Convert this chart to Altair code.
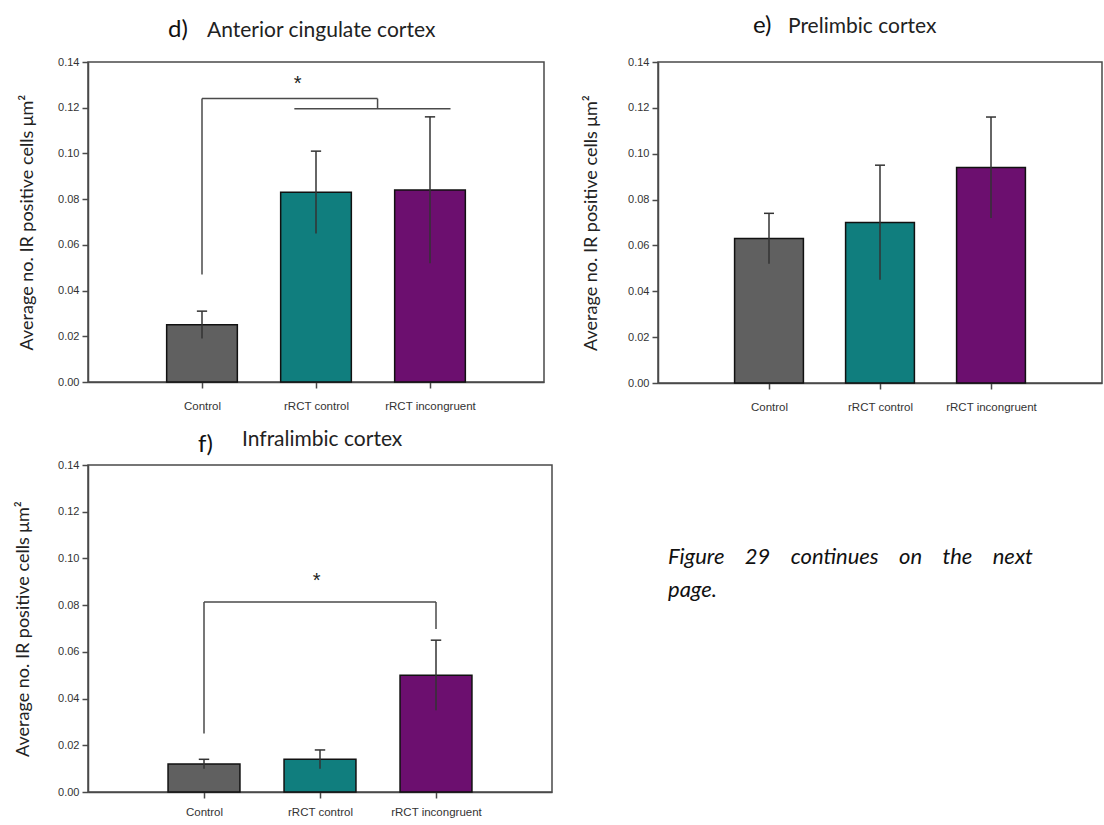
import altair as alt
import pandas as pd

# Groups and bar appearance
groups = ["Control", "rRCT control", "rRCT incongruent"]
group_pos = [1, 2, 3]
bar_colors = ["#606060", "#107e7e", "#6c0f6f"]

# Mean density of IR-positive cells and error per region
acc_mean = [0.025, 0.083, 0.084]
acc_err = [0.006, 0.018, 0.032]
plc_mean = [0.063, 0.070, 0.094]
plc_err = [0.011, 0.025, 0.022]
ilc_mean = [0.012, 0.014, 0.050]
ilc_err = [0.002, 0.004, 0.015]

y_ticks = [0.00, 0.02, 0.04, 0.06, 0.08, 0.10, 0.12, 0.14]

# Significance brackets: segments in (group position, value) units
acc_seg_x1 = [1.0, 1.0, 2.54, 1.81]
acc_seg_x2 = [1.0, 2.54, 2.54, 3.18]
acc_seg_y1 = [0.047, 0.124, 0.124, 0.1195]
acc_seg_y2 = [0.124, 0.124, 0.1195, 0.1195]
acc_star = (1.84, 0.1305)

ilc_seg_x1 = [1.0, 1.0, 3.0]
ilc_seg_x2 = [1.0, 3.0, 3.0]
ilc_seg_y1 = [0.025, 0.0813, 0.0813]
ilc_seg_y2 = [0.0813, 0.0813, 0.0698]
ilc_star = (1.97, 0.0905)

# Justified note: extra spaces widen the word gaps of the first line
NOTE = " \u2002\u2005".join(["Figure", "29", "continues", "on", "the", "next"]) + "\npage."

Y_TITLE = "Average no. IR positive cells μm²"
TITLE_FONT = "Lato"
LINE = "#4a4a4a"


def panel(mean, err, letter, name, width, height, letter_xy, name_xy,
          title_pad, x_label_pad=12, segments=None, star=None, note=None):
    df = pd.DataFrame({"group": groups, "pos": group_pos, "mean": mean,
                       "err": err, "color": bar_colors})
    base = alt.Chart(df)
    xs = alt.Scale(domain=[0, 4], nice=False, zero=False)
    ys = alt.Scale(domain=[0, 0.14], nice=False)
    label_expr = "[" + ",".join("'%s'" % g for g in groups) + "][datum.value - 1]"

    bars = base.transform_calculate(
        left="datum.pos - 0.31", right="datum.pos + 0.31"
    ).mark_bar(stroke="#111111", strokeWidth=1.5).encode(
        x=alt.X("left:Q", scale=xs,
                axis=alt.Axis(values=group_pos, labelExpr=label_expr, title=None,
                              grid=False, labelPadding=x_label_pad, labelFontSize=11.5)),
        x2="right:Q",
        y=alt.Y("mean:Q", scale=ys,
                axis=alt.Axis(values=y_ticks, format=".2f", title=Y_TITLE,
                              grid=False, labelPadding=3, titlePadding=title_pad)),
        y2=alt.datum(0),
        color=alt.Color("color:N", scale=None),
    )
    whisk = base.transform_calculate(
        lo="datum.mean - datum.err", hi="datum.mean + datum.err"
    ).mark_rule(color="#333333", strokeWidth=1.5).encode(
        x="pos:Q", y="lo:Q", y2="hi:Q")
    caps = base.transform_calculate(
        hi="datum.mean + datum.err", cl="datum.pos - 0.045", cr="datum.pos + 0.045"
    ).mark_rule(color="#333333", strokeWidth=1.5).encode(
        x="cl:Q", x2="cr:Q", y="hi:Q")

    layers = [bars, whisk, caps]

    if segments is not None:
        sx1, sx2, sy1, sy2 = segments
        seg_df = pd.DataFrame({"x1": sx1, "x2": sx2, "y1": sy1, "y2": sy2})
        layers.append(alt.Chart(seg_df).mark_rule(color=LINE, strokeWidth=1.5).encode(
            x="x1:Q", x2="x2:Q", y="y1:Q", y2="y2:Q"))
    if star is not None:
        star_df = pd.DataFrame({"x": [star[0]], "y": [star[1]], "t": ["*"]})
        layers.append(alt.Chart(star_df).mark_text(
            fontSize=20, font="Liberation Sans", color="#222222", baseline="middle"
        ).encode(x="x:Q", y="y:Q", text="t:N"))

    head = pd.DataFrame({"t": [letter]})
    layers.append(alt.Chart(head).mark_text(
        font=TITLE_FONT, fontSize=24, align="left", baseline="alphabetic",
        color="#111111"
    ).encode(x=alt.value(letter_xy[0]), y=alt.value(letter_xy[1]), text="t:N"))
    head2 = pd.DataFrame({"t": [name]})
    layers.append(alt.Chart(head2).mark_text(
        font=TITLE_FONT, fontSize=21, align="left", baseline="alphabetic",
        color="#222222"
    ).encode(x=alt.value(name_xy[0]), y=alt.value(name_xy[1]), text="t:N"))

    if note is not None:
        note_df = pd.DataFrame({"t": [note[0]]})
        layers.append(alt.Chart(note_df).mark_text(
            font=TITLE_FONT, fontSize=22, fontStyle="italic", align="left",
            baseline="alphabetic", lineBreak="\n", lineHeight=33, color="#111111"
        ).encode(x=alt.value(note[1]), y=alt.value(note[2]), text="t:N"))

    return alt.layer(*layers).properties(width=width, height=height)


acc = panel(acc_mean, acc_err, "d)", "Anterior cingulate cortex", 456, 320,
            (80, -25), (119, -25), 21,
            segments=(acc_seg_x1, acc_seg_x2, acc_seg_y1, acc_seg_y2), star=acc_star)
plc = panel(plc_mean, plc_err, "e)", "Prelimbic cortex", 444, 321,
            (95, -29), (130, -29), 27)
ilc = panel(ilc_mean, ilc_err, "f)", "Infralimbic cortex", 464, 327,
            (110, -13), (154, -19), 25, x_label_pad=8,
            segments=(ilc_seg_x1, ilc_seg_x2, ilc_seg_y1, ilc_seg_y2), star=ilc_star,
            note=(NOTE, 580, 99))

top = alt.hconcat(acc, plc, spacing=36)
chart = alt.vconcat(top, ilc, spacing=14).properties(
    padding={"left": 13, "top": 13, "right": 0, "bottom": 0}
).configure_view(
    stroke=LINE, strokeWidth=1.5
).configure_axis(
    domainColor=LINE, domainWidth=1.5, tickColor=LINE, tickWidth=1.5, tickSize=6,
    labelFont="Liberation Sans", labelFontSize=11, labelColor="#333333",
    titleFont=TITLE_FONT, titleFontSize=18, titleFontWeight="normal",
    titleColor="#222222"
)

chart.save("out.html", embed_options={"renderer": "svg", "actions": False})
